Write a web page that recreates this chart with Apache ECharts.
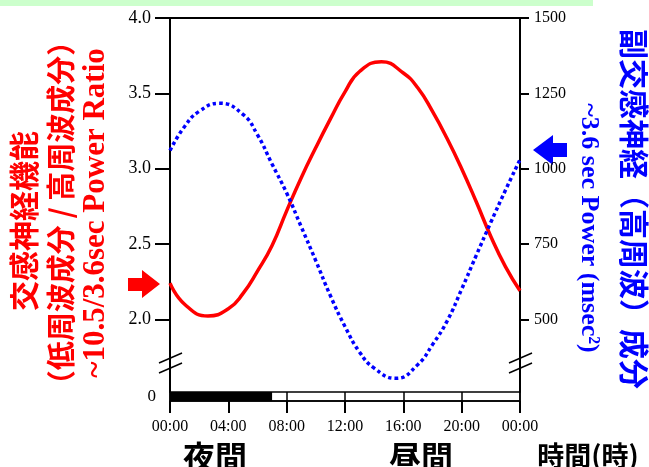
<!DOCTYPE html>
<html>
<head>
<meta charset="utf-8">
<script src="https://cdn.jsdelivr.net/npm/echarts@6/dist/echarts.min.js"></script>
<style>
html,body{margin:0;padding:0;background:#fff;}
#c{width:649px;height:467px;}
</style>
</head>
<body>
<div id="c"></div>
<script>
// ---- data ----
const redHours  = [0,1,2.6,4,5,6,7,8,9,10,11,12,13,14.5,16,17,18,19,20,21,22,23,24];
const lfhfRatio = [2.24,2.10,2.022,2.07,2.17,2.32,2.49,2.72,2.94,3.14,3.33,3.51,3.645,3.71,3.635,3.535,3.38,3.20,3.00,2.78,2.55,2.35,2.19];
const blueHours = [0,1,2,3.4,5,6,7,8,9,10,11,12,13,14,15.5,17,18,19,20,21,22,23,24];
const hfPower   = [1060,1140,1190,1217,1180,1112,1015,919,807,694,578,476,391,338,304,350,416,494,600,712,822,928,1030];
const leftTicks = [2.0,2.5,3.0,3.5,4.0];
const rightTicks = [500,750,1000,1250,1500];
const xTicks = ['00:00','04:00','08:00','12:00','16:00','20:00','00:00'];
const darkPeriod = [7];       // lights-off bar: 00:00 - 07:00
const barCategory = ['0'];

// ---- layout ----
const GL = 170, GT = 18, GW = 350, GH = 374;
const pxPerUnit = 150.65;
const leftMin = 4 - GH / pxPerUnit;
const rightMin = 500 + (leftMin - 2) * 500;
const serif = 'Liberation Serif';
const cjk = 'Noto Sans CJK JP';

const chart = echarts.init(document.getElementById('c'), null, {renderer:'canvas'});

function breakMark(cx, cy){
  return [
    {type:'line', shape:{x1:cx-11,y1:cy-1,x2:cx+12,y2:cy-11}, style:{stroke:'#000',lineWidth:1.5}},
    {type:'line', shape:{x1:cx-11,y1:cy+9,x2:cx+12,y2:cy-1}, style:{stroke:'#000',lineWidth:1.5}}
  ];
}

const option = {
  animation:false,
  backgroundColor:'#fff',
  grid:[
    {left:GL, top:GT, width:GW, height:GH},
    {left:GL, top:GT+GH, width:GW, height:9, show:true, borderColor:'#000', borderWidth:1.5, backgroundColor:'#fff'}
  ],
  xAxis:[
    {gridIndex:0, type:'value', min:0, max:24, position:'top',
     axisLine:{show:true, onZero:false, lineStyle:{color:'#000', width:2}},
     axisTick:{show:false}, axisLabel:{show:false}, splitLine:{show:false}},
    {gridIndex:1, type:'value', min:0, max:24, interval:4, position:'bottom',
     axisLine:{show:true, onZero:false, lineStyle:{color:'#000', width:1.5}},
     axisTick:{show:true, length:12, lineStyle:{color:'#000', width:2}},
     axisLabel:{margin:18, color:'#000', fontFamily:serif, fontSize:16,
       formatter:(v)=>xTicks[Math.round(v/4)]},
     splitLine:{show:true, lineStyle:{color:'#000', width:1.5}}}
  ],
  yAxis:[
    {gridIndex:0, type:'value', min:leftMin, max:4, position:'left',
     axisLine:{show:true, onZero:false, lineStyle:{color:'#000', width:2}},
     axisTick:{show:true, length:15, customValues:leftTicks, lineStyle:{color:'#000', width:2}},
     axisLabel:{customValues:leftTicks, margin:19, color:'#000', fontFamily:serif, fontSize:18,
       formatter:(v)=>v.toFixed(1)},
     splitLine:{show:false}},
    {gridIndex:0, type:'value', min:rightMin, max:1500, position:'right',
     axisLine:{show:true, onZero:false, lineStyle:{color:'#000', width:2}},
     axisTick:{show:true, length:9, customValues:rightTicks, lineStyle:{color:'#000', width:2}},
     axisLabel:{customValues:rightTicks, margin:14, color:'#000', fontFamily:serif, fontSize:16,
       formatter:(v)=>String(Math.round(v))},
     splitLine:{show:false}},
    {gridIndex:1, type:'category', data:barCategory,
     axisLine:{show:false}, axisTick:{show:false},
     axisLabel:{margin:14, color:'#000', fontFamily:serif, fontSize:17}}
  ],
  series:[
    {type:'line', xAxisIndex:0, yAxisIndex:0, smooth:0.5, symbol:'none',
     data:redHours.map((h,i)=>[h, lfhfRatio[i]]),
     lineStyle:{color:'#ff0000', width:3.5}},
    {type:'line', xAxisIndex:0, yAxisIndex:1, smooth:0.5, symbol:'none',
     data:blueHours.map((h,i)=>[h, hfPower[i]]),
     lineStyle:{color:'#0000ff', width:3.5, type:[3.5,3], cap:'butt'}},
    {type:'bar', xAxisIndex:1, yAxisIndex:2, data:darkPeriod, barWidth:'100%',
     itemStyle:{color:'#000'}, silent:true}
  ],
  graphic:[
    {type:'rect', shape:{x:0,y:0,width:593,height:6}, style:{fill:'#ccffcc'}, z:-1},
    ...breakMark(GL, 364),
    ...breakMark(GL+GW, 364),
    // red arrow (left)
    {type:'polygon', shape:{points:[[128,278],[142,278],[142,270],[160,284],[142,298],[142,291],[128,291]]}, style:{fill:'#ff0000'}},
    // blue arrow (right)
    {type:'polygon', shape:{points:[[533,150],[553,135],[553,143],[567,143],[567,157],[553,157],[553,165]]}, style:{fill:'#0000ff'}},
    // left titles
    {type:'text', x:24, y:221, rotation:Math.PI/2,
     style:{text:'交感神経機能', fill:'#ff0000', font:'bold 30px "'+cjk+'"', textAlign:'center', textVerticalAlign:'middle'}},
    {type:'text', x:61, y:213, rotation:Math.PI/2,
     style:{text:'（低周波成分 / 高周波成分）', fill:'#ff0000', font:'bold 29px "'+cjk+'"', textAlign:'center', textVerticalAlign:'middle'}},
    {type:'text', x:96, y:213, rotation:Math.PI/2,
     style:{text:'~10.5/3.6sec Power Ratio', fill:'#ff0000', font:'bold 31px "'+serif+'"', textAlign:'center', textVerticalAlign:'middle'}},
    // right titles
    {type:'text', x:634, y:209, rotation:-Math.PI/2,
     style:{text:'副交感神経（高周波）成分', fill:'#0000ff', font:'bold 30px "'+cjk+'"', textAlign:'center', textVerticalAlign:'middle'}},
    {type:'text', x:589, y:228, rotation:-Math.PI/2,
     style:{text:'~3.6 sec Power (msec²)', fill:'#0000ff', font:'bold 26px "'+serif+'"', textAlign:'center', textVerticalAlign:'middle'}},
    // bottom labels
    {type:'text', x:215, y:457, style:{text:'夜間', fill:'#000', font:'bold 32px "'+cjk+'"', textAlign:'center', textVerticalAlign:'middle'}},
    {type:'text', x:421, y:457, style:{text:'昼間', fill:'#000', font:'bold 32px "'+cjk+'"', textAlign:'center', textVerticalAlign:'middle'}},
    {type:'text', x:588, y:456, style:{text:'時間(時)', fill:'#000', font:'bold 27px "'+cjk+'"', textAlign:'center', textVerticalAlign:'middle'}}
  ]
};
chart.setOption(option);
</script>
</body>
</html>
